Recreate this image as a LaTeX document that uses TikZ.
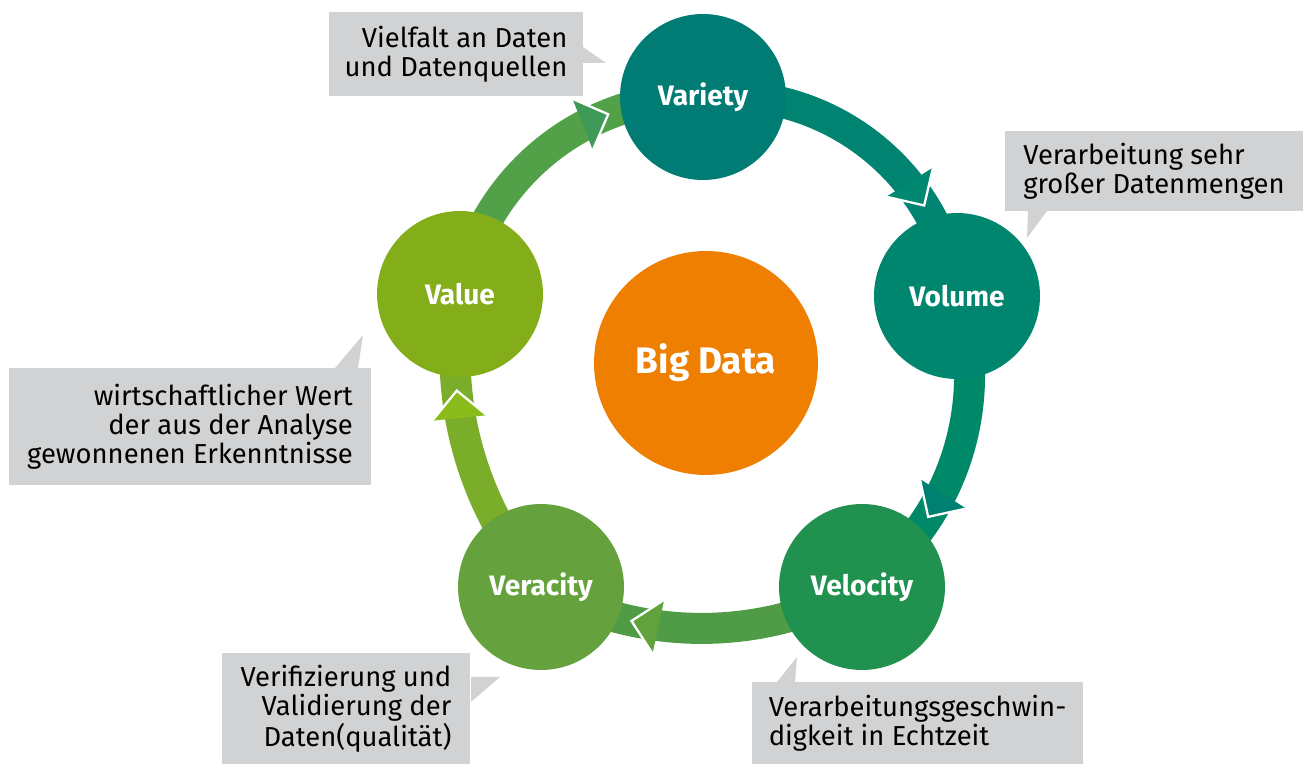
\documentclass[tikz,border=0pt]{standalone}
\usepackage{fontspec}
\setmainfont{Fira Sans}
\usepackage{tikz}
\usetikzlibrary{positioning, decorations.markings, backgrounds}
\definecolor{varietycol}{HTML}{007C74}
\definecolor{volumecol}{HTML}{00866F}
\definecolor{velocitycol}{HTML}{20914F}
\definecolor{veracitycol}{HTML}{65A13C}
\definecolor{valuecol}{HTML}{84AD1A}
\definecolor{bigcol}{HTML}{EE7F00}
\definecolor{notegray}{HTML}{D1D2D3}
% bands and their heads
\definecolor{bandA}{HTML}{008370}\definecolor{headA}{HTML}{008870}
\definecolor{bandB}{HTML}{008968}\definecolor{headB}{HTML}{008070}
\definecolor{bandC}{HTML}{509C46}\definecolor{headC}{HTML}{62A23D}
\definecolor{bandD}{HTML}{7AAD2A}\definecolor{headD}{HTML}{8ABD1B}
\definecolor{bandE}{HTML}{52A048}\definecolor{headE}{HTML}{3E9A56}
\newcommand{\notefont}{\fontsize{15.6}{16.4}\selectfont}

\begin{document}
\begin{tikzpicture}[x=0.02cm, y=0.02cm,
    phase/.style={circle, minimum size=3.32cm, inner sep=0pt, text=white, font=\bfseries\fontsize{16}{18}\selectfont},
    note/.style={fill=notegray, inner sep=0pt, font=\notefont},
    band/.style={line width=0.62cm},
    headat/.style={postaction={decorate}, decoration={markings, mark=at position -1.94cm with {
        \fill[#1] (0,0) -- (-0.55cm,0.55cm) -- (-0.55cm,-0.55cm) -- cycle;
        \draw[white, line width=1.3pt] (-0.55cm,0.55cm) -- (0,0) -- (-0.55cm,-0.55cm);}}}]
    \useasboundingbox (0,0) rectangle (1308,764);
    \node (variety)  at (703,667) [phase, fill=varietycol]  {Variety};
    \node (volume)   at (957,468) [phase, fill=volumecol]   {Volume};
    \node (velocity) at (862,177) [phase, fill=velocitycol] {Velocity};
    \node (veracity) at (541,177) [phase, fill=veracitycol] {Veracity};
    \node (value)    at (460,470) [phase, fill=valuecol]    {Value};
    \node (bigdata)  at (706,401) [circle, minimum size=4.48cm, fill=bigcol, text=white, font=\bfseries\fontsize{21}{24}\selectfont] {Big Data};
    \begin{scope}[on background layer]
        \draw[band, draw=bandA, headat=headA] (variety.center) to[bend left=44, looseness=0.99] (volume.center);
        \draw[band, draw=bandB, headat=headB] (volume.center) to[bend left=36, looseness=0.94] (velocity.center);
        \draw[band, draw=bandC, headat=headC] (velocity.center) to[bend left=29, looseness=0.91] (veracity.center);
        \draw[band, draw=bandD, headat=headD] (veracity.center) to[bend left=25, looseness=0.9] (value.center);
        \draw[band, draw=bandE, headat=headE] (value.center) to[bend left=40, looseness=0.97] (variety.center);
    \end{scope}
    % callouts
    \node (varietynote)  at (456,710)    [note, minimum width=5.08cm, minimum height=1.68cm, align=right] {Vielfalt an Daten\\und Datenquellen};
    \node (volumenote)   at (1154,593)   [note, minimum width=5.96cm, minimum height=1.6cm, align=left] {Verarbeitung sehr\\großer Datenmengen};
    \node (valuenote)    at (190,337.5)  [note, minimum width=7.24cm, minimum height=2.34cm, align=right] {wirtschaftlicher Wert\\der aus der Analyse\\gewonnenen Erkenntnisse};
    \node (veracitynote) at (346,55.5)   [note, minimum width=4.96cm, minimum height=2.22cm, align=right] {Verifizierung und\\Validierung der\\Daten(qualität)};
    \node (velocitynote) at (917.5,41)   [note, minimum width=6.62cm, minimum height=1.64cm, align=left] {Verarbeitungsgeschwin-\\digkeit in Echtzeit};
    \fill[notegray] (583,717) -- (606,701) -- (583,701) -- cycle;
    \fill[notegray] (1028,553) -- (1027,526) -- (1047,553) -- cycle;
    \fill[notegray] (335,396) -- (363,429) -- (358,396) -- cycle;
    \fill[notegray] (471,87) -- (500,87) -- (471,62) -- cycle;
    \fill[notegray] (777,82) -- (797,107) -- (795,82) -- cycle;
\end{tikzpicture}
\end{document}
